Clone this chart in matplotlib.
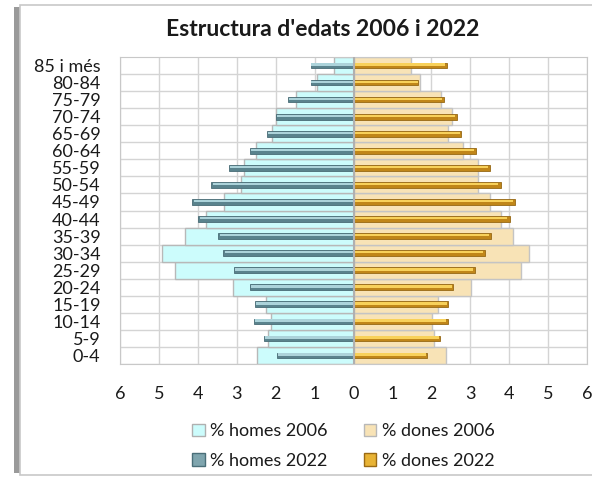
import numpy as np
import matplotlib.pyplot as plt
from matplotlib.patches import Patch, Rectangle
from matplotlib.ticker import FuncFormatter

plt.rcParams['font.family'] = ['Lato', 'DejaVu Sans']

# ---------- dades ----------
edats = ['0-4', '5-9', '10-14', '15-19', '20-24', '25-29', '30-34', '35-39',
         '40-44', '45-49', '50-54', '55-59', '60-64', '65-69', '70-74',
         '75-79', '80-84', '85 i més']
homes_2006 = [2.48, 2.20, 2.12, 2.26, 3.10, 4.58, 4.92, 4.34, 3.78, 3.32,
              2.90, 2.82, 2.50, 2.09, 1.98, 1.47, 0.95, 0.51]
homes_2022 = [1.96, 2.31, 2.56, 2.54, 2.67, 3.08, 3.36, 3.49, 4.00, 4.15,
              3.66, 3.21, 2.67, 2.22, 2.00, 1.68, 1.10, 1.10]
dones_2006 = [2.38, 2.08, 2.02, 2.17, 3.02, 4.30, 4.52, 4.09, 3.79, 3.50,
              3.20, 3.19, 2.82, 2.42, 2.54, 2.26, 1.72, 1.48]
dones_2022 = [1.88, 2.23, 2.42, 2.43, 2.56, 3.11, 3.38, 3.53, 4.01, 4.16,
              3.78, 3.50, 3.14, 2.77, 2.65, 2.32, 1.67, 2.40]

y = np.arange(len(edats))
h06 = -np.array(homes_2006)
h22 = -np.array(homes_2022)

fig = plt.figure(figsize=(5.92, 4.79), dpi=100)

# marc del grafic (ombra a l'esquerra)
fig.patches.append(Rectangle((14/592, 6/479), 6/592, 466/479, transform=fig.transFigure,
                             facecolor='#9a9a9a', edgecolor='none', zorder=-2))
fig.patches.append(Rectangle((20/592, 4/479), 580/592, 470/479, transform=fig.transFigure,
                             facecolor='white', edgecolor='#c8c8c8', lw=1.2, zorder=-1))

ax = fig.add_axes([120/592, 1 - 364/479, 467/592, 307/479])
ax.set_zorder(2)

# 2006: barres amples
ax.barh(y, h06, height=1.0, color='#ccfcfc', edgecolor='#b8b8b8', lw=1, zorder=2)
ax.barh(y, dones_2006, height=1.0, color='#f8e3b6', edgecolor='#c4c4c4', lw=1, zorder=2)

# 2022: barres primes amb efecte de relleu
ax.barh(y, h22, height=0.33, color='#5a838d', edgecolor='#486c76', lw=0.6, zorder=3)
ax.barh(y + 0.05, h22 * 0.985, height=0.14, color='#acd3da', edgecolor='none', zorder=4)
ax.barh(y, dones_2022, height=0.33, color='#c08619', edgecolor='#966814', lw=0.6, zorder=3)
ax.barh(y + 0.05, np.array(dones_2022) * 0.985, height=0.14, color='#f8d15a', edgecolor='none', zorder=4)

ax.axvline(0, color='#b0b0b0', lw=1.5, zorder=5)

ax.set_xlim(-6, 6)
ax.set_ylim(-0.5, len(edats) - 0.5)
ax.set_xticks(np.arange(-6, 7))
ax.xaxis.set_major_formatter(FuncFormatter(lambda v, p: f'{abs(v):.0f}'))
ax.set_yticks(y)
ax.set_yticklabels(edats)
ax.set_yticks(y - 0.5, minor=True)
ax.tick_params(axis='both', which='both', length=0, labelsize=13, colors='#1a1a1a')
ax.tick_params(axis='y', pad=14)
ax.tick_params(axis='x', pad=16)

ax.grid(axis='x', color='#d4d4d4', lw=1, zorder=0)
ax.grid(axis='y', which='minor', color='#d4d4d4', lw=1, zorder=0)
ax.set_axisbelow(True)
for s in ax.spines.values():
    s.set_color('#c8c8c8')

fig.text(0.545, 1 - 29/479, "Estructura d'edats 2006 i 2022", ha='center', va='center',
         fontsize=16.5, fontweight='bold', color='#1a1a1a')

handles = [Patch(facecolor='#ccfcfc', edgecolor='#b0b0b0', label='% homes 2006'),
           Patch(facecolor='#7fa5ae', edgecolor='#4a6e78', label='% homes 2022'),
           Patch(facecolor='#f8e3b6', edgecolor='#b8b8b8', label='% dones 2006'),
           Patch(facecolor='#e8b335', edgecolor='#9a6a14', label='% dones 2022')]
fig.legend(handles=handles, ncol=2, loc='center', bbox_to_anchor=(0.58, 0.069),
           frameon=False, fontsize=13, handlelength=0.7, handleheight=0.7,
           handletextpad=0.3, columnspacing=2.0, labelspacing=0.75, labelcolor='#1a1a1a')

fig.savefig('out.png', dpi=100)
